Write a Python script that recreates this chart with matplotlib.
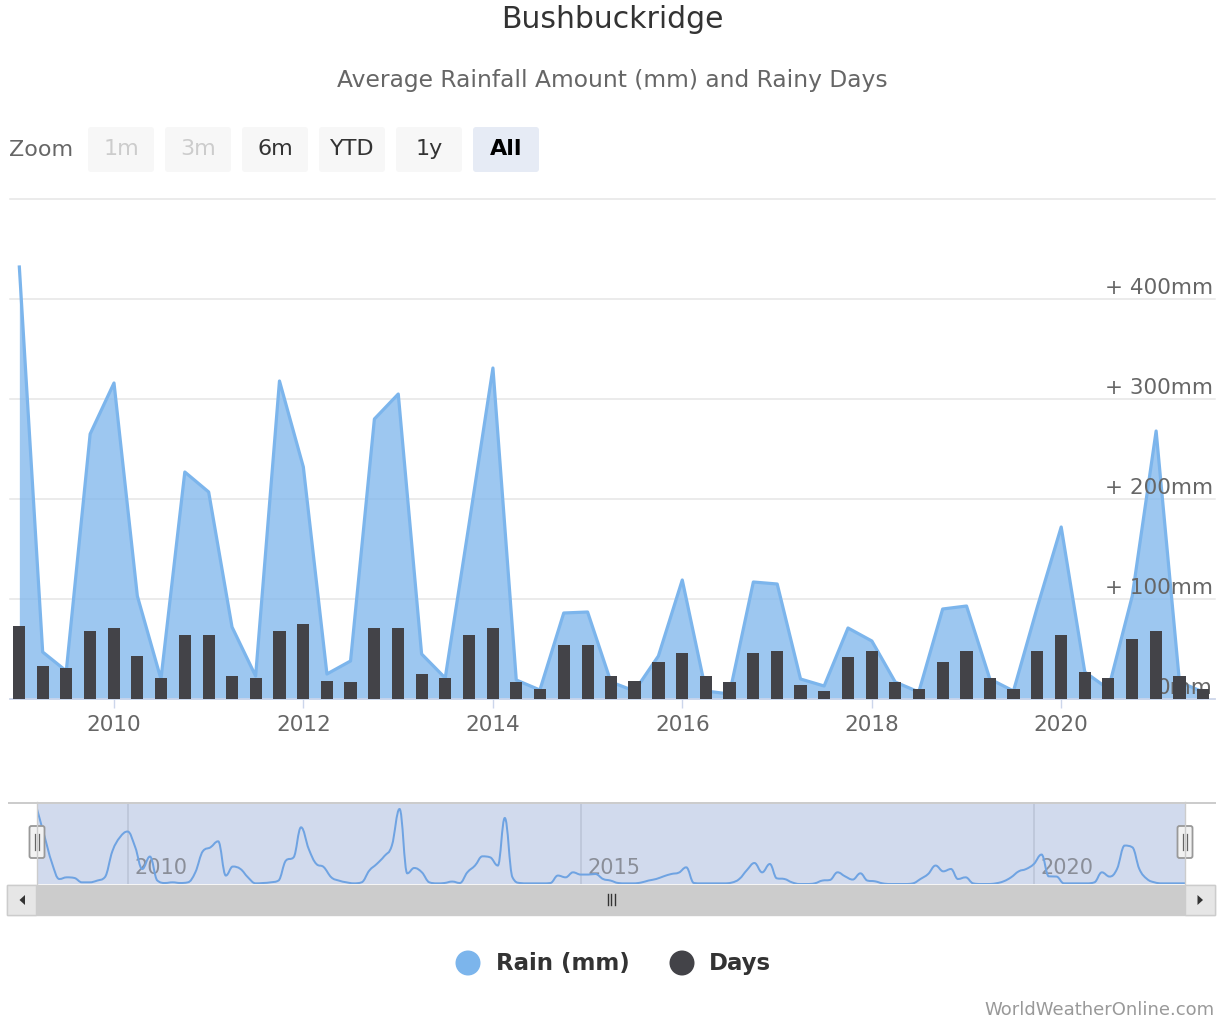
import numpy as np
import matplotlib.pyplot as plt
import matplotlib.dates as mdates
from matplotlib.patches import FancyBboxPatch, Circle, Rectangle, Polygon, PathPatch
from matplotlib.path import Path

W, H = 1225, 1020

# quarterly figures for the main chart (Jan-Mar 2009 ... Jul-Sep 2021)
quarters = np.arange('2009-01', '2021-10', 3, dtype='datetime64[M]')
rain_q = [432, 47, 28, 265, 316, 103, 20, 227, 207, 72,
          23, 318, 232, 25, 38, 280, 305, 45, 21, 175,
          331, 19, 9, 86, 87, 17, 8, 43, 119, 8,
          5, 117, 115, 20, 13, 71, 58, 17, 7, 90,
          93, 20, 8, 92, 172, 27, 10, 103, 268, 17, 7]
days_q = [14.6, 6.6, 6.2, 13.6, 14.2, 8.6, 4.2, 12.8, 12.8, 4.6,
          4.2, 13.6, 15.0, 3.6, 3.4, 14.2, 14.2, 5.0, 4.2, 12.8,
          14.2, 3.4, 2.0, 10.8, 10.8, 4.6, 3.6, 7.4, 9.2, 4.6,
          3.4, 9.2, 9.6, 2.8, 1.6, 8.4, 9.6, 3.4, 2.0, 7.4,
          9.6, 4.2, 2.0, 9.6, 12.8, 5.4, 4.2, 12.0, 13.6, 4.6, 2.0]

# monthly rain for the navigator strip
months = np.arange('2009-01', '2021-10', dtype='datetime64[M]')
rain_m = [675, 423, 198, 45, 60, 54, 15, 15, 31, 60,
          297, 420, 472, 330, 135, 247, 31, 9, 15, 9,
          15, 105, 297, 330, 384, 76, 157, 135, 60, 6,
          9, 15, 31, 211, 240, 510, 315, 180, 153, 60,
          31, 15, 6, 15, 121, 180, 252, 346, 675, 96,
          144, 105, 15, 6, 9, 22, 9, 105, 166, 249,
          240, 166, 594, 60, 9, 6, 6, 6, 9, 76,
          60, 105, 85, 85, 90, 45, 31, 9, 6, 6,
          13, 31, 45, 69, 90, 103, 150, 9, 6, 6,
          6, 6, 13, 45, 126, 189, 105, 180, 51, 45,
          15, 0, 0, 6, 31, 36, 105, 69, 40, 96,
          31, 24, 6, 0, 0, 0, 6, 45, 90, 166,
          114, 135, 45, 60, 6, 0, 0, 6, 24, 60,
          114, 135, 180, 265, 69, 67, 6, 6, 6, 6,
          15, 105, 67, 135, 346, 330, 135, 45, 15, 6,
          6, 6, 6]

year_ticks = [2010, 2012, 2014, 2016, 2018, 2020]
nav_years = [2010, 2015, 2020]
rain_ticks = [0, 100, 200, 300, 400]
buttons = ['1m', '3m', '6m', 'YTD', '1y', 'All']

RAIN = '#7cb5ec'
DAYS = '#434348'


def px(v):
    # pixels to points at 100 dpi
    return v * 0.72


def dnum(a):
    return mdates.date2num(np.asarray(a).astype('datetime64[D]'))


def spline_path(x, y, smoothing=1.5):
    denom = smoothing + 1
    n = len(x)
    lc, rc = [(x[0], y[0])], [(x[0], y[0])]
    for i in range(1, n - 1):
        lx = (smoothing * x[i] + x[i - 1]) / denom
        ly = (smoothing * y[i] + y[i - 1]) / denom
        rx = (smoothing * x[i] + x[i + 1]) / denom
        ry = (smoothing * y[i] + y[i + 1]) / denom
        corr = (ry - ly) * (rx - x[i]) / (rx - lx) + y[i] - ry
        ly += corr
        ry += corr
        if ly > max(y[i - 1], y[i]):
            ly = max(y[i - 1], y[i]); ry = 2 * y[i] - ly
        elif ly < min(y[i - 1], y[i]):
            ly = min(y[i - 1], y[i]); ry = 2 * y[i] - ly
        if ry > max(y[i + 1], y[i]):
            ry = max(y[i + 1], y[i]); ly = 2 * y[i] - ry
        elif ry < min(y[i + 1], y[i]):
            ry = min(y[i + 1], y[i]); ly = 2 * y[i] - ry
        lc.append((lx, ly))
        rc.append((rx, ry))
    lc.append((x[-1], y[-1]))
    rc.append((x[-1], y[-1]))
    verts = [(x[0], y[0])]
    codes = [Path.MOVETO]
    for i in range(1, n):
        verts += [rc[i - 1], lc[i], (x[i], y[i])]
        codes += [Path.CURVE4] * 3
    return Path(verts, codes)


plt.rcParams['font.family'] = 'DejaVu Sans'
fig = plt.figure(figsize=(W / 100, H / 100), dpi=100)
fig.patch.set_facecolor('white')

xq = dnum(quarters)
xm = dnum(months)

# ---- main chart ----
ax = fig.add_axes([10 / W, 1 - 700 / H, 1205 / W, 500 / H])
ax.set_xlim(dnum(np.datetime64('2008-11-26')), dnum(np.datetime64('2021-08-16')))
ax.set_ylim(0, 500)
ax.set_facecolor('none')
ax.fill_between(xq, rain_q, color=RAIN, alpha=0.75, lw=0, zorder=2)
ax.plot(xq, rain_q, color=RAIN, lw=px(3.2), solid_joinstyle='round', zorder=3)

ax.set_yticks([0, 100, 200, 300, 400, 500])
ax.yaxis.grid(True, color='#e6e6e6', lw=1.1, zorder=0)
for gl in ax.get_ygridlines():
    gl.set_clip_on(False)
ax.tick_params(axis='y', length=0, labelleft=False)
for s in ['left', 'right', 'top']:
    ax.spines[s].set_visible(False)
ax.spines['bottom'].set_color('#ccd6eb')
ax.spines['bottom'].set_linewidth(1.2)
ax.set_xticks(dnum([np.datetime64(f'{y}-01-01') for y in year_ticks]))
ax.set_xticklabels([str(y) for y in year_ticks])
ax.tick_params(axis='x', length=px(9), width=1, color='#ccd6eb',
               labelcolor='#666666', labelsize=15.5, pad=px(6))
for v in rain_ticks:
    lab = '0mm' if v == 0 else f'+ {v}mm'
    ax.annotate(lab, xy=(1, v), xycoords=('axes fraction', 'data'),
                xytext=(px(-2), px(12)), textcoords='offset points',
                ha='right', va='center', fontsize=15.5, color='#666666', zorder=4)

ax2 = ax.twinx()
ax2.set_ylim(0, 100)
ax2.bar(xq, days_q, width=47, color=DAYS, zorder=3)
ax2.axis('off')

# ---- navigator ----
axn = fig.add_axes([37 / W, 1 - 885 / H, 1148 / W, 82 / H])
axn.set_xlim(xm[0], xm[-1])
axn.set_ylim(0, 738)
axn.set_facecolor('#d1daed')
for y in nav_years:
    xv = dnum(np.datetime64(f'{y}-01-01'))
    axn.axvline(xv, color='#bcc5d8', lw=1.2, zorder=1)
    axn.annotate(str(y), xy=(xv, 0.21), xycoords=('data', 'axes fraction'),
                 xytext=(px(7), 0), textcoords='offset points',
                 ha='left', va='center', fontsize=15, color='#8a8e98', zorder=2)
axn.add_patch(PathPatch(spline_path(list(xm), rain_m), fill=False,
                        edgecolor='#6fa3e2', lw=px(2), zorder=3, clip_on=True))
axn.set_xticks([])
axn.set_yticks([])
for s in axn.spines.values():
    s.set_visible(False)

# ---- page furniture in pixel coordinates ----
ov = fig.add_axes([0, 0, 1, 1])
ov.set_xlim(0, W)
ov.set_ylim(H, 0)
ov.axis('off')
ov.patch.set_visible(False)

ov.text(612, 20, 'Bushbuckridge', ha='center', va='center', fontsize=21.5, color='#333333')
ov.text(612, 80, 'Average Rainfall Amount (mm) and Rainy Days', ha='center', va='center',
        fontsize=16.8, color='#666666')

ov.text(9, 150, 'Zoom', ha='left', va='center', fontsize=16, color='#666666')
for i, b in enumerate(buttons):
    x0 = 88 + i * 77
    selected = b == 'All'
    ov.add_patch(FancyBboxPatch((x0, 128), 66, 45, boxstyle='round,pad=0,rounding_size=3',
                                fc='#e6ebf5' if selected else '#f7f7f7', ec='none'))
    col = '#000000' if selected else ('#cccccc' if b in ('1m', '3m') else '#333333')
    ov.text(x0 + 33, 149, b, ha='center', va='center', fontsize=16, color=col,
            fontweight='bold' if selected else 'normal')

# navigator outline and handles
ov.plot([9, 1215], [803.5, 803.5], color='#cccccc', lw=px(2))
ov.plot([37, 37], [803, 885], color='#cccccc', lw=1)
ov.plot([1185, 1185], [803, 885], color='#cccccc', lw=1)
for hx in (37, 1185):
    ov.add_patch(FancyBboxPatch((hx - 7.5, 827), 15, 32, boxstyle='round,pad=0,rounding_size=2',
                                fc='#f2f2f2', ec='#999999', lw=1.3))
    for dx in (-1.8, 1.8):
        ov.plot([hx + dx, hx + dx], [835, 851], color='#666666', lw=0.9)

# scrollbar
ov.add_patch(Rectangle((7, 886), 1208, 30, fc='#f2f2f2', ec='#cccccc', lw=1))
ov.add_patch(Rectangle((36, 886), 1149, 30, fc='#cccccc', ec='none'))
ov.add_patch(Rectangle((7, 886), 29, 30, fc='#e6e6e6', ec='#cccccc', lw=1))
ov.add_patch(Rectangle((1185, 886), 30, 30, fc='#e6e6e6', ec='#cccccc', lw=1))
ov.add_patch(Polygon([[19.5, 901], [25, 896], [25, 906]], closed=True, fc='#333333', ec='none'))
ov.add_patch(Polygon([[1203, 901], [1197.5, 896], [1197.5, 906]], closed=True, fc='#333333', ec='none'))
for dx in (-3.5, 0, 3.5):
    ov.plot([611 + dx, 611 + dx], [895, 906], color='#333333', lw=1)

# legend
ov.add_patch(Circle((468, 964), 12.5, fc=RAIN, ec='none'))
ov.text(496, 964, 'Rain (mm)', ha='left', va='center', fontsize=16.5,
        fontweight='bold', color='#333333')
ov.add_patch(Circle((682, 964), 12.5, fc=DAYS, ec='none'))
ov.text(709, 964, 'Days', ha='left', va='center', fontsize=16.5,
        fontweight='bold', color='#333333')

ov.text(1215, 1010, 'WorldWeatherOnline.com', ha='right', va='center', fontsize=13,
        color='#999999')

fig.savefig('out.png', dpi=100, facecolor='white')
